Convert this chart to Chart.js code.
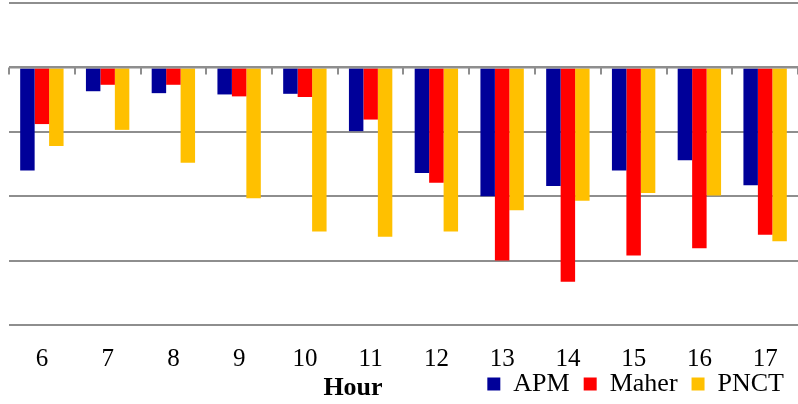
<!DOCTYPE html>
<html>
<head>
<meta charset="utf-8">
<script src="https://cdn.jsdelivr.net/npm/chart.js@4.4.1/dist/chart.umd.min.js"></script>
<style>
html,body{margin:0;padding:0;background:#fff;}
#wrap{width:798px;height:404px;}
</style>
</head>
<body>
<div id="wrap"><canvas id="c" width="798" height="404"></canvas></div>
<script>
const hours = ['6','7','8','9','10','11','12','13','14','15','16','17'];
const apm   = [-1.60,-0.37,-0.40,-0.42,-0.41,-0.99,-1.64,-2.00,-1.84,-1.60,-1.44,-1.83];
const maher = [-0.88,-0.27,-0.27,-0.45,-0.46,-0.81,-1.79,-3.00,-3.33,-2.92,-2.81,-2.60];
const pnct  = [-1.22,-0.97,-1.48,-2.03,-2.55,-2.63,-2.55,-2.22,-2.07,-1.95,-1.99,-2.70];
const seriesNames = ['APM','Maher','PNCT'];
const axisTitle = 'Hour';
const yMin = -4, yMax = 1, yStep = 1;

const GRID = '#8e8e8e';
const SERIF = '"Liberation Serif", "Times New Roman", serif';

const zeroTicks = {
  id: 'zeroTicks',
  afterDatasetsDraw(chart) {
    const xs = chart.scales.x, ys = chart.scales.y, ctx = chart.ctx;
    const y0 = ys.getPixelForValue(0);
    const w = xs.getPixelForValue(1) - xs.getPixelForValue(0);
    ctx.save();
    ctx.strokeStyle = GRID;
    ctx.lineWidth = 2;
    ctx.beginPath();
    ctx.moveTo(chart.chartArea.left, y0);
    ctx.lineTo(chart.chartArea.right, y0);
    for (let i = 0; i <= hours.length; i++) {
      const x = Math.round(xs.getPixelForValue(i) - w / 2);
      ctx.moveTo(x, y0);
      ctx.lineTo(x, y0 + 7);
    }
    ctx.stroke();
    ctx.restore();
  }
};

// legend shares its row with the axis title, just under the tick labels
const legendRow = {
  id: 'legendRow',
  afterLayout(chart) {
    const lg = chart.legend, xs = chart.scales.x;
    if (!lg || !xs) return;
    lg.top = xs.top + 32;
    lg.bottom = chart.height;
    lg.height = lg.bottom - lg.top;
  }
};

const hourTitle = {
  id: 'hourTitle',
  afterDraw(chart) {
    const ctx = chart.ctx;
    ctx.save();
    ctx.font = 'bold 26px ' + SERIF;
    ctx.fillStyle = '#000';
    ctx.textAlign = 'center';
    ctx.textBaseline = 'alphabetic';
    ctx.fillText(axisTitle, 353, 395);
    ctx.restore();
  }
};

new Chart(document.getElementById('c'), {
  type: 'bar',
  data: {
    labels: hours,
    datasets: [
      {label: seriesNames[0], data: apm,   backgroundColor: '#000099', borderWidth: 0},
      {label: seriesNames[1], data: maher, backgroundColor: '#ff0000', borderWidth: 0},
      {label: seriesNames[2], data: pnct,  backgroundColor: '#ffc000', borderWidth: 0}
    ]
  },
  options: {
    responsive: false,
    animation: false,
    layout: {padding: {left: 9, right: 0, top: 3, bottom: 0}},
    datasets: {bar: {categoryPercentage: 0.66, barPercentage: 1}},
    scales: {
      x: {
        grid: {display: false, drawTicks: false},
        border: {display: false},
        ticks: {color: '#000', font: {family: SERIF, size: 25, lineHeight: 1.2}, padding: 19, maxRotation: 0, autoSkip: false},
        afterFit(scale) { scale.height = 47; }
      },
      y: {
        min: yMin, max: yMax,
        grid: {color: GRID, lineWidth: 2, drawTicks: false},
        border: {display: false},
        ticks: {display: false, stepSize: yStep}
      }
    },
    plugins: {
      legend: {
        position: 'bottom',
        align: 'end',
        maxHeight: 32,
        labels: {boxWidth: 13, boxHeight: 13, padding: 14, color: '#000', font: {family: SERIF, size: 26}}
      },
      tooltip: {enabled: false}
    }
  },
  plugins: [zeroTicks, legendRow, hourTitle]
});
</script>
</body>
</html>
